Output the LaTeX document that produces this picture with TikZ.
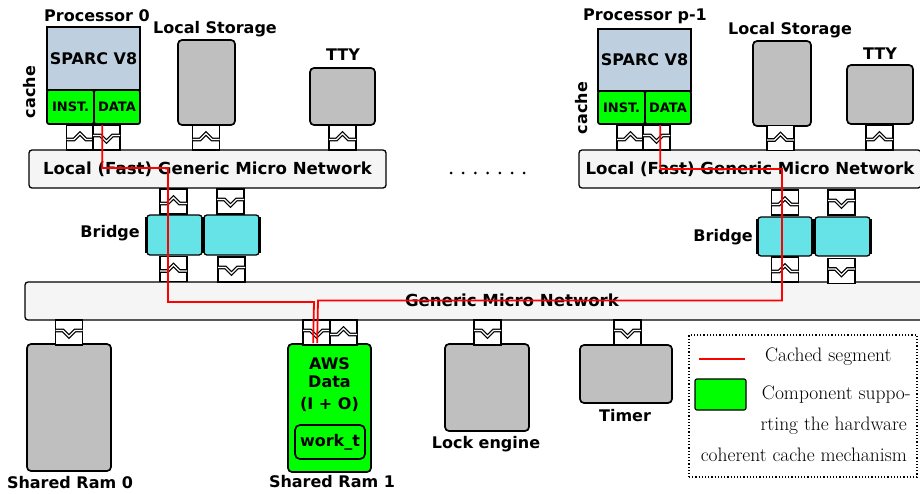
\documentclass[tikz,border=0pt]{standalone}
\usepackage{fontspec}
\newfontfamily\labelfont{DejaVu Sans}
\usepackage{tikz}
\usetikzlibrary{positioning}
\definecolor{sparcblue}{RGB}{190,208,224}
\definecolor{cachegreen}{RGB}{0,255,0}
\definecolor{devgrey}{RGB}{191,191,191}
\definecolor{bridgecyan}{RGB}{102,227,230}
\definecolor{netgrey}{RGB}{245,245,245}

\tikzset{
  lbl/.style={font=\labelfont\bfseries\fontsize{16}{18}\selectfont, inner sep=0pt},
  box/.style={draw, line width=1.7pt, inner sep=0pt},
  cpu/.style={box, fill=sparcblue, minimum width=93pt, minimum height=63pt,
              font=\labelfont\bfseries\fontsize{16}{18}\selectfont},
  cachebox/.style={box, fill=cachegreen, rounded corners=2pt, minimum width=46.5pt,
              minimum height=34pt, font=\labelfont\bfseries\fontsize{13}{15}\selectfont},
  device/.style={box, fill=devgrey, rounded corners=4pt},
  network/.style={box, line width=1.3pt, fill=netgrey, rounded corners=3pt, minimum height=38pt},
  netlbl/.style={lbl, font=\labelfont\bfseries\fontsize{16.6}{18}\selectfont},
  bridgebox/.style={box, line width=1.3pt, fill=bridgecyan, rounded corners=3pt,
              minimum width=55pt, minimum height=40pt},
  cached/.style={red, line width=1.8pt},
  legendtext/.style={font=\fontsize{19.5}{22}\selectfont, inner sep=0pt},
  portbody/.style={draw, fill=white, line width=1.2pt},
  chevron/.style={draw, double, double distance=1.3pt, line width=1.2pt},
  portup/.pic={
    \draw[portbody] (-13.5,-12.5) rectangle (13.5,12.5);
    \draw[chevron] (-13.5,2) -- (-6,2) -- (0,-4) -- (6,2) -- (13.5,2);
  },
  portdown/.pic={
    \draw[portbody] (-13.5,-12.5) rectangle (13.5,12.5);
    \draw[chevron] (-13.5,-2) -- (-6,-2) -- (0,4) -- (6,-2) -- (13.5,-2);
  }
}

\begin{document}
\begin{tikzpicture}[x=1pt, y=-1pt]
\useasboundingbox (0,0) rectangle (920,493);

% networks
\node[network, minimum width=357pt] (lnet0) at (207.5,169) {};
\node[network, minimum width=342pt] (lnet1) at (750,169) {};
\node[network, minimum width=915pt] (gnet) at (482.5,301) {};

% processor 0
\node[lbl] (p0lbl) at (97,16) {Processor 0};
\node[cpu] (cpu0) at (93.5,58.5) {SPARC V8};
\node[cachebox, minimum width=47pt] (inst0) at (70.5,107) {INST.};
\node[cachebox, minimum width=46pt] (data0) at (117,107) {DATA};
\node[lbl, rotate=90] (cache0) at (30,92) {cache};
\node[device, minimum width=57pt, minimum height=85pt] (store0) at (206.5,82.5) {};
\node[lbl] (store0lbl) at (215,29) {Local Storage};
\node[device, minimum width=65pt, minimum height=57pt] (tty0) at (342.5,96.5) {};
\node[lbl] (tty0lbl) at (343,55) {TTY};

% processor p-1
\node[lbl] (p1lbl) at (645,16) {Processor p-1};
\node[cpu, minimum height=62pt] (cpu1) at (644.5,60) {SPARC V8};
\node[cachebox, minimum width=47pt, minimum height=33pt] (inst1) at (621.5,107.5) {INST.};
\node[cachebox, minimum width=46pt, minimum height=33pt] (data1) at (668,107.5) {DATA};
\node[lbl, rotate=90] (cache1) at (582,108) {cache};
\node[device, minimum width=58pt, minimum height=85pt] (store1) at (782,83.5) {};
\node[lbl] (store1lbl) at (790,30) {Local Storage};
\node[device, minimum width=66pt, minimum height=59pt] (tty1) at (880,94.5) {};
\node[lbl] (tty1lbl) at (880,54) {TTY};

% bridges
\node[bridgebox] (bra0) at (174.5,235) {};
\node[bridgebox] (brb0) at (231.5,235) {};
\node[lbl, anchor=east] (br0lbl) at (140,233) {Bridge};
\node[bridgebox, minimum width=54pt, minimum height=39pt] (bra1) at (785,236.5) {};
\node[bridgebox, minimum height=39pt] (brb1) at (842.5,236.5) {};
\node[lbl, anchor=east] (br1lbl) at (753,237) {Bridge};
\foreach \b in {bra0,brb0,bra1,brb1} {
  \draw[line width=2.6pt] ([yshift=-3pt]\b.north west) -- ([yshift=3pt]\b.south west);
  \draw[line width=2.6pt] ([yshift=-3pt]\b.north east) -- ([yshift=3pt]\b.south east);
}

% shared components
\node[device, minimum width=84pt, minimum height=127pt] (ram0) at (69,407.5) {};
\node[lbl] (ram0lbl) at (70,483) {Shared Ram 0};
\node[device, fill=cachegreen, minimum width=83pt, minimum height=128pt] (ram1) at (329.5,408) {};
\node[lbl, align=center] (awstxt) at (329.5,385) {AWS\\Data\\[4pt](I + O)};
\node[box, fill=cachegreen, rounded corners=5pt, minimum width=70pt, minimum height=34pt,
      font=\labelfont\bfseries\fontsize{16}{18}\selectfont] (work) at (330,442) {work\_t};
\node[lbl] (ram1lbl) at (332,482) {Shared Ram 1};
\node[device, minimum width=84pt, minimum height=87pt] (lock) at (487,387.5) {};
\node[lbl] (locklbl) at (486,444) {Lock engine};
\node[device, minimum width=92pt, minimum height=58pt] (timer) at (626,374) {};
\node[lbl] (timerlbl) at (625,416) {Timer};

% ports
\pic (pinst0) at (80,137.5) {portup};
\pic (pdata0) at (106.5,137.5) {portdown};
\pic (pstore0) at (206,137.5) {portup};
\pic (ptty0) at (342.5,137.5) {portup};
\pic (pinst1) at (630.5,137.5) {portup};
\pic (pdata1) at (656.5,137.5) {portdown};
\pic (pstore1) at (780.5,138) {portup};
\pic (ptty1) at (879.5,137.5) {portup};
\pic (pbra0t) at (173.5,201.5) {portup};
\pic (pbrb0t) at (230.5,201.5) {portdown};
\pic (pbra0b) at (173.5,269) {portup};
\pic (pbrb0b) at (231.5,269.5) {portdown};
\pic (pbra1t) at (785,202.5) {portup};
\pic (pbrb1t) at (841.5,202.5) {portdown};
\pic (pbra1b) at (785,269.5) {portup};
\pic (pbrb1b) at (841.5,271) {portdown};
\pic (pram0) at (69,332.5) {portdown};
\pic (pram1a) at (316.5,332.5) {portdown};
\pic (pram1b) at (343.5,332.5) {portup};
\pic (plock) at (487.5,332.5) {portdown};
\pic (ptimer) at (627.5,332.5) {portdown};

% network names
\node[netlbl] (lnet0lbl) at (lnet0) {Local (Fast) Generic Micro Network};
\node[netlbl] (lnet1lbl) at (lnet1) {Local (Fast) Generic Micro Network};
\node[netlbl] (gnetlbl) at (512,300) {Generic Micro Network};

\foreach \i in {0,...,6}
  \fill (451+12.2*\i,173) circle (1.5pt);

% cached segments
\draw[cached] ([xshift=9pt]data0.south west) |- (168,168) |- (314,302)
  -- ([xshift=26pt]ram1.north west);
\draw[cached] ([xshift=16pt]data1.south west) |- (782,169) |- (318,300.5)
  -- ([xshift=30pt]ram1.north west);

% legend
\node[draw, dotted, line width=1.2pt, minimum width=228pt, minimum height=142pt] (legend) at (803,406) {};
\draw[cached] (699,359) -- (745,359);
\node[legendtext, anchor=west] (keyred) at (765,357) {Cached segment};
\node[cachebox, line width=1.2pt, minimum width=51pt, minimum height=31pt] (keygreen) at (720.5,394.5) {};
\node[legendtext, anchor=east] (keyt1) at (911,395) {Component suppo-};
\node[legendtext, anchor=east] (keyt2) at (907,426) {rting the hardware};
\node[legendtext, anchor=east] (keyt3) at (907,455) {coherent cache mechanism};
\end{tikzpicture}
\end{document}
